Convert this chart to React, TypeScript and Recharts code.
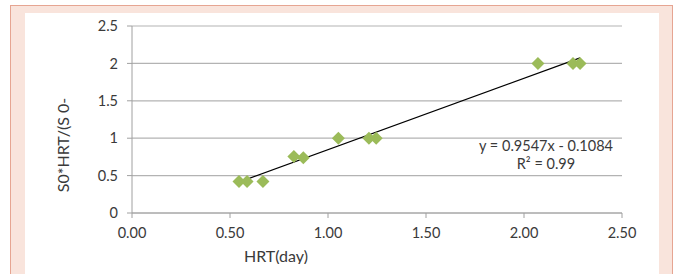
import React from 'react';
import { ComposedChart, Scatter, XAxis, YAxis, CartesianGrid, ReferenceLine, Label } from 'recharts';

// HRT (day) vs S0*HRT/(S0-S) readings
const hrtDays = [0.546, 0.587, 0.668, 0.826, 0.874, 1.053, 1.209, 1.246, 2.071, 2.25, 2.286];
const ratioValues = [0.42, 0.42, 0.42, 0.757, 0.74, 1, 1, 1, 2, 2, 2];
const xTicks = [0, 0.5, 1, 1.5, 2, 2.5];
const yTicks = [0, 0.5, 1, 1.5, 2, 2.5];

// linear trendline reported on the chart
const slope = 0.9547;
const intercept = -0.1084;
const rSquared = 0.99;

const points = hrtDays.map((x, i) => ({ x, y: ratioValues[i] }));
const xMin = Math.min(...hrtDays);
const xMax = Math.max(...hrtDays);
const trendSegment = [
  { x: xMin, y: slope * xMin + intercept },
  { x: xMax, y: slope * xMax + intercept },
];

const FONT = 'Lato, "Open Sans", sans-serif';
const TEXT = '#3a3a3a';
const GREEN = '#9bbb59';

const Diamond = (props: any) => {
  const { cx, cy } = props;
  const r = 6.5;
  return (
    <polygon
      points={`${cx},${cy - r} ${cx + r},${cy} ${cx},${cy + r} ${cx - r},${cy}`}
      fill={GREEN}
    />
  );
};

export default function App() {
  return (
    <div style={{ position: 'fixed', left: 0, top: 0, width: 675, height: 274, overflow: 'hidden', background: '#fff' }}>
      {/* frame */}
      <div
        style={{
          position: 'absolute', left: 10, top: 5, width: 663, height: 300,
          background: '#f9e4dc', borderLeft: '1.5px solid #e6a592', borderTop: '1.5px solid #e6a592',
          borderRight: '1.5px solid #e6a592', boxSizing: 'border-box',
        }}
      />
      <div style={{ position: 'absolute', left: 25, top: 13, width: 634, height: 300, background: '#fff' }} />

      <div style={{ position: 'absolute', left: 0, top: 0, width: 675, height: 264, overflow: 'hidden' }}>
        <ComposedChart
          width={675}
          height={280}
          data={points}
          margin={{ top: 26, right: 53, bottom: 0, left: 0 }}
          style={{ fontFamily: FONT }}
        >
          <CartesianGrid horizontal vertical={false} stroke="#b3b3b3" strokeWidth={1.2} />
          <XAxis
            type="number"
            dataKey="x"
            domain={[0, 2.5]}
            ticks={xTicks}
            tickFormatter={(v: number) => v.toFixed(2)}
            height={67}
            stroke="#a0a0a0"
            tickSize={5}
            tickMargin={10}
            tick={{ fill: TEXT, fontSize: 14.5, fontFamily: FONT }}
            allowDataOverflow
          >
            <Label
              content={() => (
                <text x={276} y={262} textAnchor="middle" fill={TEXT} fontSize={16} fontFamily={FONT}>
                  HRT(day)
                </text>
              )}
            />
          </XAxis>
          <YAxis
            type="number"
            dataKey="y"
            domain={[0, 2.5]}
            ticks={yTicks}
            width={132}
            stroke="#a0a0a0"
            tickSize={5}
            tickMargin={9}
            tick={{ fill: TEXT, fontSize: 14.5, fontFamily: FONT }}
            allowDataOverflow
          >
            <Label
              content={() => (
                <text
                  x={62}
                  y={145}
                  transform="rotate(-90 62 145)"
                  textAnchor="middle"
                  dominantBaseline="central"
                  fill={TEXT}
                  fontSize={16}
                  fontFamily={FONT}
                >
                  S0*HRT/(S 0-
                </text>
              )}
            />
          </YAxis>
          <ReferenceLine segment={trendSegment} stroke="#000" strokeWidth={1.2} ifOverflow="visible" />
          <Scatter data={points} dataKey="y" shape={Diamond} isAnimationActive={false} />
        </ComposedChart>
      </div>

      <div
        style={{
          position: 'absolute', left: 446, top: 137, width: 200, textAlign: 'center',
          fontFamily: FONT, fontSize: 14.5, color: TEXT, lineHeight: '18px',
        }}
      >
        <div>{`y = ${slope}x - ${Math.abs(intercept)}`}</div>
        <div>{`R² = ${rSquared}`}</div>
      </div>
    </div>
  );
}
